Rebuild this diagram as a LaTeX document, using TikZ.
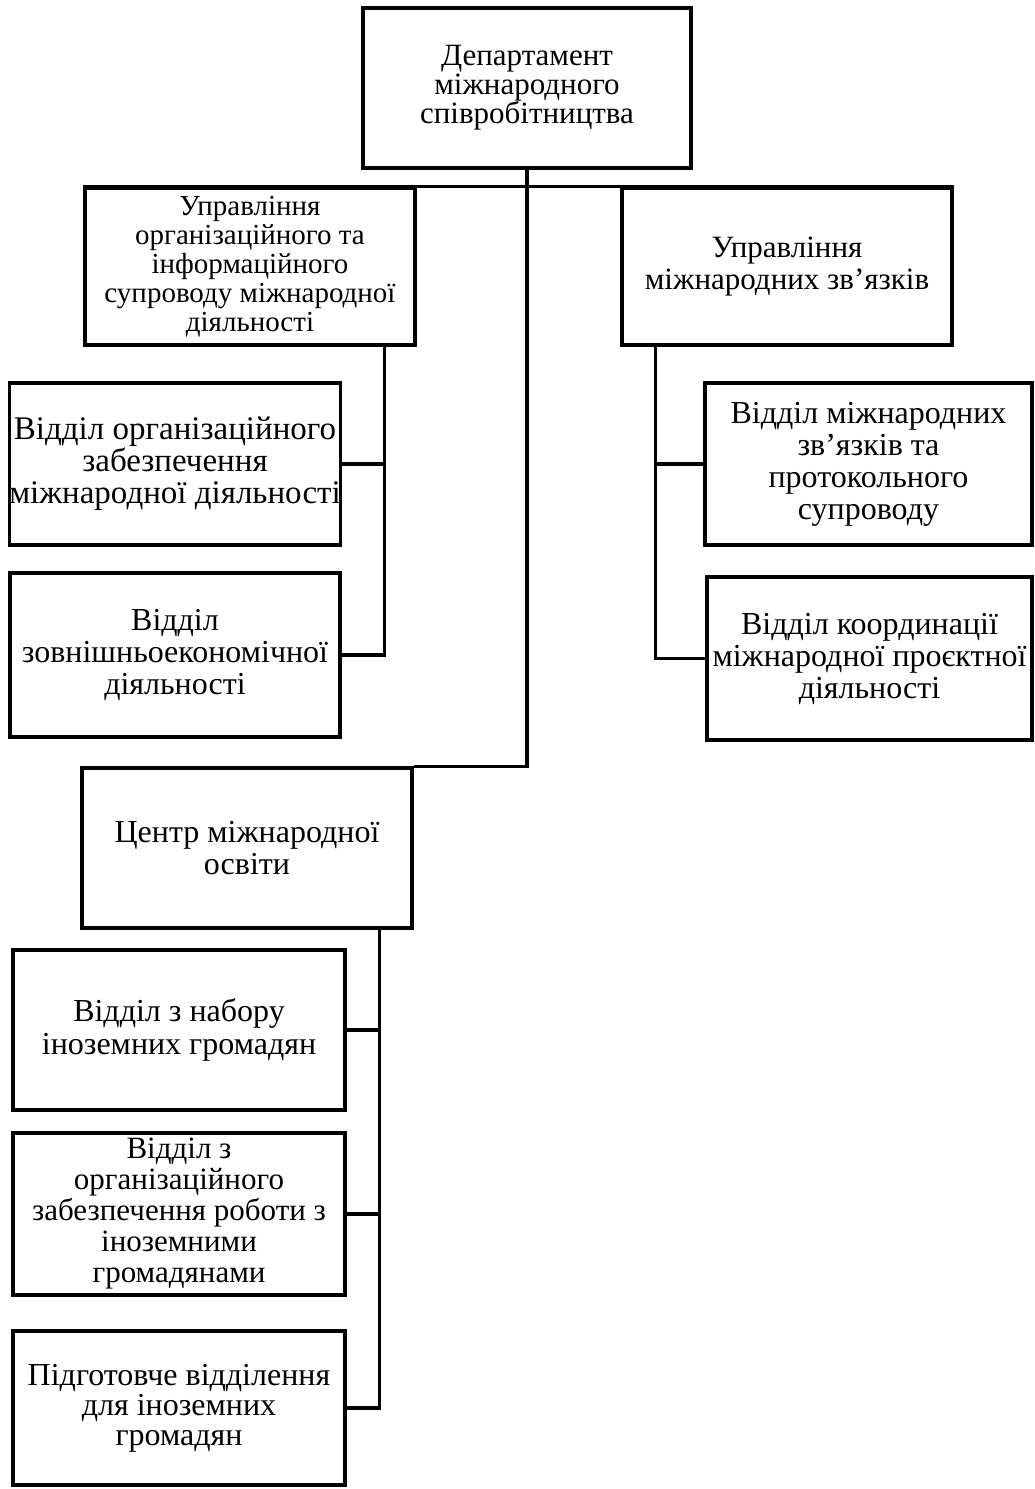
\documentclass[tikz,border=0pt]{standalone}
\usepackage{fontspec}
\setmainfont{Liberation Serif}
\usetikzlibrary{calc}
\newcommand\boxfont[2]{\fontsize{#1}{#2}\selectfont}
\tikzset{
  box/.style={draw, line width=3.5pt, inner sep=0pt, align=center,
    font=\boxfont{32}{32}},
  link/.style={line width=3.5pt},
}
\begin{document}
\begin{tikzpicture}[x=1pt,y=-1pt]
\useasboundingbox[fill=white] (0,0) rectangle (1034,1489);
% level 0
\node[box, font=\boxfont{31}{29}, minimum width=328, minimum height=160] (top) at (527,88)
  {Департамент\\міжнародного\\співробітництва};
% level 1
\node[box, font=\boxfont{29}{29}, minimum width=330, minimum height=157] (u1) at (250,266.5)
  {Управління\\організаційного та\\інформаційного\\супроводу міжнародної\\діяльності};
\node[box, font=\boxfont{31}{32}, minimum width=330, minimum height=157] (u2) at (787,266.5)
  {Управління\\міжнародних зв’язків};
% children of u1
\node[box, font=\boxfont{33}{32}, minimum width=330, minimum height=162] (a1) at (175,464)
  {Відділ організаційного\\забезпечення\\міжнародної діяльності};
\node[box, minimum width=330, minimum height=164] (a2) at (175,655)
  {Відділ\\зовнішньоекономічної\\діяльності};
% children of u2
\node[box, font=\boxfont{32}{32}, minimum width=327, minimum height=162] (b1) at (868.5,464)
  {Відділ міжнародних\\зв’язків та\\протокольного\\супроводу};
\node[box, minimum width=325, minimum height=163] (b2) at (869.5,658.5)
  {Відділ координації\\міжнародної проєктної\\діяльності};
% centre
\node[box, minimum width=330, minimum height=160] (c) at (247,848)
  {Центр міжнародної\\освіти};
\node[box, font=\boxfont{32}{33}, minimum width=332, minimum height=160] (c1) at (179,1030)
  {Відділ з набору\\іноземних громадян};
\node[box, font=\boxfont{31}{31}, minimum width=332, minimum height=162] (c2) at (179,1214)
  {Відділ з\\організаційного\\забезпечення роботи з\\іноземними\\громадянами};
\node[box, font=\boxfont{32}{30}, minimum width=332, minimum height=154] (c3) at (179,1408)
  {Підготовче відділення\\для іноземних\\громадян};
% junction points
\coordinate (u1j) at ($(u1.south west)!0.903!(u1.south east)$);
\coordinate (u2j) at ($(u2.south west)!0.106!(u2.south east)$);
\coordinate (cj) at ($(c.south west)!0.897!(c.south east)$);
% connectors
\draw[link] (u1.north west) -- (u2.north east);
\draw[link] (top.south) |- (c.north east);
\draw[link] (u1j) |- (a1.east);
\draw[link] (u1j) |- (a2.east);
\draw[link] (u2j) |- (b1.west);
\draw[link] (u2j) |- (b2.west);
\draw[link] (cj) |- (c1.east);
\draw[link] (cj) |- (c2.east);
\draw[link] (cj) |- (c3.east);
\end{tikzpicture}
\end{document}
